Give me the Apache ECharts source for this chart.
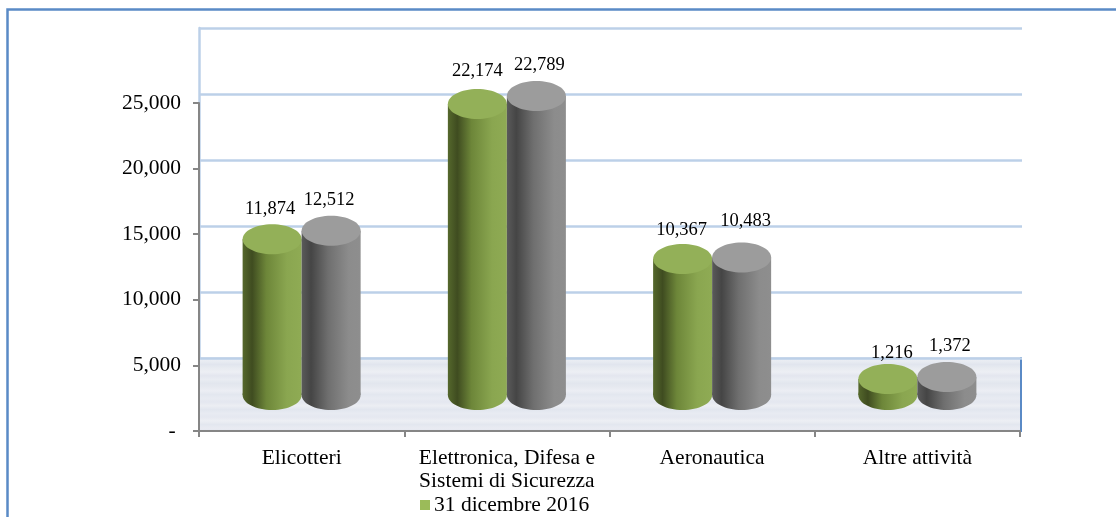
<!DOCTYPE html>
<html>
<head>
<meta charset="utf-8">
<style>
  html, body { margin: 0; padding: 0; background: #fff; overflow: hidden; }
  #chart { width: 1116px; height: 517px; }
</style>
<script src="https://cdn.jsdelivr.net/npm/echarts@6/dist/echarts.min.js"></script>
</head>
<body>
<div id="chart"></div>
<script>
const categories = ["Elicotteri", "Elettronica, Difesa e\nSistemi di Sicurezza", "Aeronautica", "Altre attività"];
const seriesNames = ["31 dicembre 2016", "Periodo precedente"];
const values2016 = [11874, 22174, 10367, 1216];
const valuesPrev = [12512, 22789, 10483, 1372];

const fontFamily = "'Liberation Serif', 'Times New Roman', serif";
const fmt = (v) => String(v).replace(/\B(?=(\d{3})+$)/g, ",");

const green = {
  side: [[0, "#55682c"], [0.16, "#3f4c20"], [0.4, "#6d8639"], [0.75, "#8aa650"], [1, "#8fab54"]],
  top: "#93b058",
  // small hand nudges of the data labels, [dx, dy] per category
  nudge: [[-3, 1], [-1, -2], [-2, 2], [3, 5]],
};
const grey = {
  side: [[0, "#5a5a5a"], [0.16, "#454545"], [0.45, "#6f6f6f"], [0.8, "#8c8c8c"], [1, "#8e8e8e"]],
  top: "#9c9c9c",
  nudge: [[-1, 0], [4, 0], [5, -5], [4, 0]],
};

const sideFill = (stops) =>
  new echarts.graphic.LinearGradient(0, 0, 1, 0, stops.map((s) => ({ offset: s[0], color: s[1] })));

const cylinder = (pal, sign) => (params, api) => {
  const base = api.coord([api.value(0), 0]);
  const top = api.coord([api.value(0), api.value(1)]);
  const w = api.size([1, 0])[0] * 0.2875;
  const cx = base[0] + (sign * w) / 2;
  const ry = 15;
  const fill = sideFill(pal.side);
  const nudge = pal.nudge[params.dataIndex];
  return {
    type: "group",
    children: [
      { type: "ellipse", shape: { cx: cx, cy: base[1], rx: w / 2, ry: ry }, style: { fill: fill } },
      { type: "rect", shape: { x: cx - w / 2, y: top[1], width: w, height: base[1] - top[1] }, style: { fill: fill } },
      { type: "ellipse", shape: { cx: cx, cy: top[1], rx: w / 2, ry: ry }, style: { fill: pal.top } },
      {
        type: "text",
        x: cx + sign * -1 + nudge[0],
        y: top[1] - 31 + nudge[1],
        style: {
          text: fmt(api.value(1)),
          font: "18.5px " + fontFamily,
          fill: "#000",
          align: "center",
          verticalAlign: "middle",
        },
      },
    ],
  };
};

// horizontal streaks of the floor texture
const floorBands = [
  [0, "#e2e5ed"], [0.05, "#eaedf3"], [0.1, "#e1e5ee"], [0.15, "#e8ebf1"], [0.2, "#edeff4"],
  [0.25, "#e3e6ef"], [0.3, "#e9ecf2"], [0.35, "#e2e6ee"], [0.4, "#e6e9f0"], [0.45, "#eceef4"],
  [0.5, "#e3e7ef"], [0.55, "#e8ebf2"], [0.6, "#e4e7f0"], [0.65, "#eceef3"], [0.7, "#e2e6ef"],
  [0.75, "#e8ebf2"], [0.8, "#e5e8f0"], [0.85, "#edeff4"], [0.9, "#e3e7ef"], [0.95, "#e9ebf2"], [1, "#e3e6ee"],
];

const chart = echarts.init(document.getElementById("chart"), null, { renderer: "canvas" });
chart.setOption({
  animation: false,
  backgroundColor: "#fff",
  textStyle: { fontFamily: fontFamily },
  graphic: [
    {
      type: "rect",
      z: -10,
      shape: { x: 7.5, y: 9.5, width: 1200, height: 600 },
      style: { fill: "#fff", stroke: "#5a8ac6", lineWidth: 2.5 },
      silent: true,
    },
    {
      type: "rect",
      z: 0,
      shape: { x: 199, y: 357, width: 822, height: 75 },
      style: {
        fill: new echarts.graphic.LinearGradient(0, 0, 0, 1, floorBands.map((s) => ({ offset: s[0], color: s[1] }))),
      },
      silent: true,
    },
    {
      type: "line",
      z: 0,
      shape: { x1: 1021, y1: 357, x2: 1021, y2: 432 },
      style: { stroke: "#5a8ac6", lineWidth: 2 },
      silent: true,
    },
  ],
  legend: {
    data: [seriesNames[0]],
    left: 415,
    top: 489,
    itemWidth: 10,
    itemHeight: 10,
    itemGap: 4,
    icon: "rect",
    textStyle: { fontFamily: fontFamily, fontSize: 21.5, color: "#000", padding: [0, 0, 0, -1] },
  },
  grid: [
    // visible axes
    { left: 199, right: 96, top: 103, height: 328 },
    // back wall
    { left: 199, right: 94, top: 28, height: 330 },
    // cylinders, standing on the floor
    { left: 199, right: 96, top: 1.4, height: 393.6 },
  ],
  xAxis: [
    {
      gridIndex: 0,
      type: "category",
      data: categories,
      axisLine: { lineStyle: { color: "#868686", width: 2 } },
      axisTick: { show: true, length: 6, lineStyle: { color: "#868686", width: 2 } },
      axisLabel: { color: "#000", fontSize: 21.5, fontFamily: fontFamily, margin: 16, lineHeight: 23, interval: 0 },
    },
    { gridIndex: 1, type: "category", data: categories, show: false },
    { gridIndex: 2, type: "category", data: categories, show: false },
  ],
  yAxis: [
    {
      gridIndex: 0,
      type: "value",
      min: 0,
      max: 25000,
      interval: 5000,
      axisLine: { show: true, lineStyle: { color: "#868686", width: 2 } },
      axisTick: { show: true, length: 6, lineStyle: { color: "#868686", width: 2 } },
      axisLabel: {
        color: "#000",
        fontSize: 21.5,
        fontFamily: fontFamily,
        margin: 18,
        padding: [6, 0, 0, 0],
        formatter: (v) => (v === 0 ? "- " : fmt(v)),
      },
      splitLine: { show: false },
      z: 3,
    },
    {
      gridIndex: 1,
      type: "value",
      min: 0,
      max: 25000,
      interval: 5000,
      axisLine: { show: true, lineStyle: { color: "#bcd0e8", width: 2.5 } },
      axisTick: { show: false },
      axisLabel: { show: false },
      splitLine: { show: true, lineStyle: { color: "#bcd0e8", width: 2.5 } },
      z: 1,
    },
    { gridIndex: 2, type: "value", min: 0, max: 30000, show: false, splitLine: { show: false } },
  ],
  series: [
    {
      name: seriesNames[0],
      type: "custom",
      xAxisIndex: 2,
      yAxisIndex: 2,
      z: 5,
      itemStyle: { color: "#9bbb59" },
      renderItem: cylinder(green, -1),
      data: values2016.map((v, i) => [i, v]),
    },
    {
      name: seriesNames[1],
      type: "custom",
      xAxisIndex: 2,
      yAxisIndex: 2,
      z: 5,
      itemStyle: { color: "#8e8e8e" },
      renderItem: cylinder(grey, 1),
      data: valuesPrev.map((v, i) => [i, v]),
    },
  ],
});
</script>
</body>
</html>
